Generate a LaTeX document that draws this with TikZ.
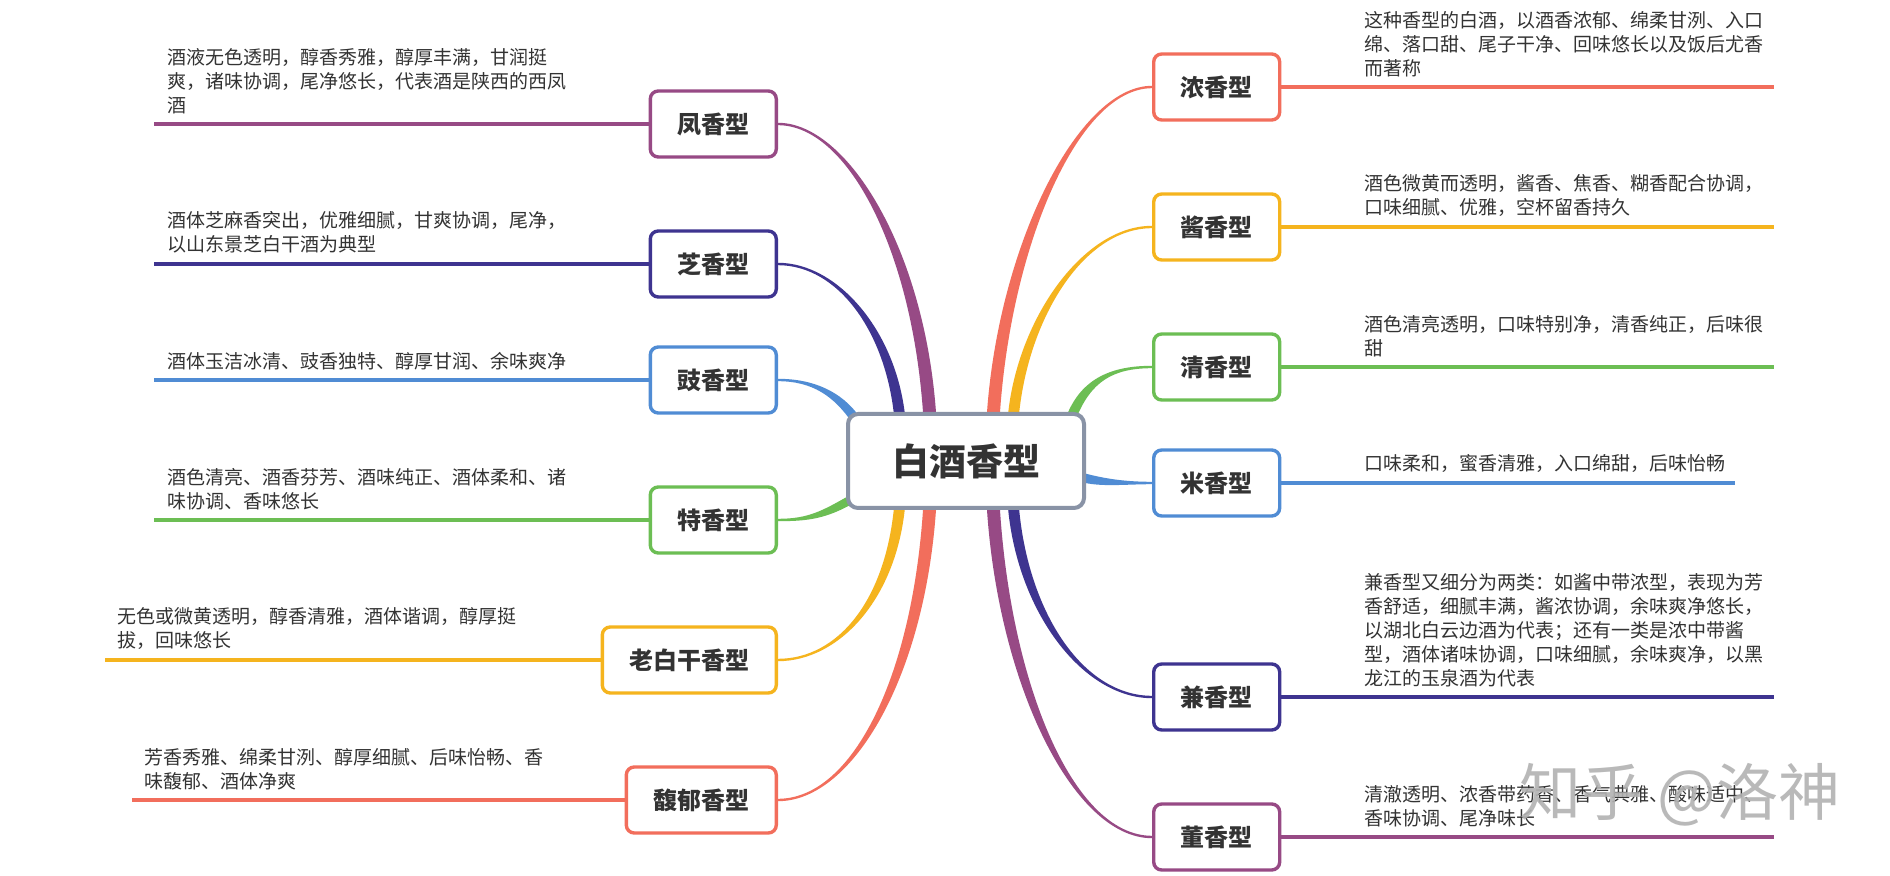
\documentclass[tikz,border=0pt]{standalone}
\usepackage{fontspec}
\setmainfont{Noto Sans CJK SC}
\usetikzlibrary{calc}
\usetikzlibrary{positioning}

\definecolor{tomato}{RGB}{242,110,92}
\definecolor{amber}{RGB}{245,180,30}
\definecolor{leaf}{RGB}{108,190,84}
\definecolor{sky}{RGB}{80,140,212}
\definecolor{indigo}{RGB}{62,52,144}
\definecolor{plum}{RGB}{151,74,133}
\definecolor{slate}{RGB}{137,147,166}
\definecolor{ink}{RGB}{51,51,51}

\pgfdeclarelayer{background}
\pgfsetlayers{background,main}

\tikzset{
	hub/.style={
		rectangle,
		rounded corners=5pt,
		draw=slate, line width=2pt,
		fill=white,
		minimum width=118pt,
		minimum height=47pt,
		font=\fontsize{18.5}{20}\selectfont\bfseries,
		text=ink},
	kind/.style={
		rectangle,
		rounded corners=4pt,
		draw=#1, line width=1.7pt,
		fill=white,
		inner xsep=13.5pt,
		minimum height=33pt,
		font=\fontsize{12}{14}\selectfont\bfseries,
		text=ink},
	note/.style={anchor=south west, inner sep=0pt, align=left,
		font=\fontsize{9.5}{12}\selectfont, text=ink},
	stem/.style={draw=#1, line width=1.8pt},
	stamp/.style={font=\fontsize{31}{31}\selectfont, text=black!30, opacity=0.9},
}

% tapered branch: colour, start, control 1, control 2, end, start half width, end half width
\newcommand{\limb}[7]{%
	\fill[#1] ($#2+(#6)$) .. controls +(#3) and +(#4) .. ($#5+(#7)$)
		-- ($#5-(#7)$) .. controls +(#4) and +(#3) .. ($#2-(#6)$) -- cycle;}

\begin{document}
\begin{tikzpicture}
	[x=0.5pt, y=-0.5pt]
	\useasboundingbox (0,0) rectangle (1890,876);

	\node[hub] (root) at (966,461) {白酒香型};

	\node[kind=tomato, anchor=west] (nong) at (1152,87) {浓香型};
	\node[kind=amber, anchor=west] (jiang) at (1152,227) {酱香型};
	\node[kind=leaf, anchor=west] (qing) at (1152,367) {清香型};
	\node[kind=sky, anchor=west] (mi) at (1152,483) {米香型};
	\node[kind=indigo, anchor=west] (jian) at (1152,697) {兼香型};
	\node[kind=plum, anchor=west] (dong) at (1152,837) {董香型};

	\node[kind=plum, anchor=east] (feng) at (778,124) {凤香型};
	\node[kind=indigo, anchor=east] (zhi) at (778,264) {芝香型};
	\node[kind=sky, anchor=east] (chi) at (778,380) {豉香型};
	\node[kind=leaf, anchor=east] (te) at (778,520) {特香型};
	\node[kind=amber, anchor=east] (laobaigan) at (778,660) {老白干香型};
	\node[kind=tomato, anchor=east] (fuyu) at (778,800) {馥郁香型};

	\begin{pgfonlayer}{background}
	\fill[white] (0,0) rectangle (1890,876);
	\limb{tomato}{(root.north)+(27,8)}{10,-170}{-75,0}{(nong.west)}{6.5,0}{0,1.2}
	\limb{amber}{(root.north)+(47,8)}{8,-98}{-70,0}{(jiang.west)}{5.5,0}{0,1.2}
	\limb{leaf}{(root.north east)+(-15,6)}{15,-38}{-40,0}{(qing.west)}{4.5,2}{0,1.2}
	\limb{sky}{(root.east)+(-6,16)}{22,6}{-28,0}{(mi.west)}{-1.3,4.5}{0,1.2}
	\limb{indigo}{(root.south)+(47,-8)}{8,108}{-70,0}{(jian.west)}{5.5,0}{0,-1.2}
	\limb{plum}{(root.south)+(27,-8)}{10,178}{-80,0}{(dong.west)}{6.5,0}{0,-1.2}
	\limb{plum}{(root.north)+(-36,8)}{-10,-168}{70,0}{(feng.east)}{6.5,0}{0,-1.2}
	\limb{indigo}{(root.north)+(-66,8)}{-8,-88}{60,0}{(zhi.east)}{5.5,0}{0,-1.2}
	\limb{sky}{(root.north west)+(10,8)}{-18,-26}{35,0}{(chi.east)}{3.8,-2.7}{0,-1.2}
	\limb{leaf}{(root.west)+(6,38)}{-28,16}{30,0}{(te.east)}{-2.2,-3.8}{0,-1.2}
	\limb{amber}{(root.south)+(-66,-8)}{-8,98}{60,0}{(laobaigan.east)}{5.5,0}{0,1.2}
	\limb{tomato}{(root.south)+(-36,-8)}{-10,173}{75,0}{(fuyu.east)}{6.5,0}{0,1.2}
	\end{pgfonlayer}

	\node[note] (nongnote) at ($(nong.east)+(83,-10)$) {这种香型的白酒，以酒香浓郁、绵柔甘洌、入口\\绵、落口甜、尾子干净、回味悠长以及饭后尤香\\而著称};
	\node[note] (jiangnote) at ($(jiang.east)+(83,-10)$) {酒色微黄而透明，酱香、焦香、糊香配合协调，\\口味细腻、优雅，空杯留香持久};
	\node[note] (qingnote) at ($(qing.east)+(83,-10)$) {酒色清亮透明，口味特别净，清香纯正，后味很\\甜};
	\node[note] (minote) at ($(mi.east)+(83,-10)$) {口味柔和，蜜香清雅，入口绵甜，后味怡畅};
	\node[note] (jiannote) at ($(jian.east)+(83,-10)$) {兼香型又细分为两类：如酱中带浓型，表现为芳\\香舒适，细腻丰满，酱浓协调，余味爽净悠长，\\以湖北白云边酒为代表；还有一类是浓中带酱\\型，酒体诸味协调，口味细腻，余味爽净，以黑\\龙江的玉泉酒为代表};
	\node[note] (dongnote) at ($(dong.east)+(83,-10)$) {清澈透明、浓香带药香、香气典雅、酸味适中、\\香味协调、尾净味长};

	\node[note] (fengnote) at ($(feng.west)+(-482,-10)$) {酒液无色透明，醇香秀雅，醇厚丰满，甘润挺\\爽，诸味协调，尾净悠长，代表酒是陕西的西凤\\酒};
	\node[note] (zhinote) at ($(zhi.west)+(-482,-10)$) {酒体芝麻香突出，优雅细腻，甘爽协调，尾净，\\以山东景芝白干酒为典型};
	\node[note] (chinote) at ($(chi.west)+(-482,-10)$) {酒体玉洁冰清、豉香独特、醇厚甘润、余味爽净};
	\node[note] (tenote) at ($(te.west)+(-482,-10)$) {酒色清亮、酒香芬芳、酒味纯正、酒体柔和、诸\\味协调、香味悠长};
	\node[note] (laobaigannote) at ($(laobaigan.west)+(-484,-10)$) {无色或微黄透明，醇香清雅，酒体谐调，醇厚挺\\拔，回味悠长};
	\node[note] (fuyunote) at ($(fuyu.west)+(-481,-10)$) {芳香秀雅、绵柔甘洌、醇厚细腻、后味怡畅、香\\味馥郁、酒体净爽};

	\draw[stem=tomato] (nong.east) -- ($(nongnote.south west)+(410,10)$);
	\draw[stem=amber] (jiang.east) -- ($(jiangnote.south west)+(410,10)$);
	\draw[stem=leaf] (qing.east) -- ($(qingnote.south west)+(410,10)$);
	\draw[stem=sky] (mi.east) -- ($(minote.south west)+(371,10)$);
	\draw[stem=indigo] (jian.east) -- ($(jiannote.south west)+(410,10)$);
	\draw[stem=plum] (dong.east) -- ($(dongnote.south west)+(410,10)$);

	\draw[stem=plum] (feng.west) -- ($(fengnote.south west)+(-13,10)$);
	\draw[stem=indigo] (zhi.west) -- ($(zhinote.south west)+(-13,10)$);
	\draw[stem=sky] (chi.west) -- ($(chinote.south west)+(-13,10)$);
	\draw[stem=leaf] (te.west) -- ($(tenote.south west)+(-13,10)$);
	\draw[stem=amber] (laobaigan.west) -- ($(laobaigannote.south west)+(-12,10)$);
	\draw[stem=tomato] (fuyu.west) -- ($(fuyunote.south west)+(-12,10)$);

	\node[stamp] (wm) at (1680,795) {知乎 @洛神};
\end{tikzpicture}
\end{document}
